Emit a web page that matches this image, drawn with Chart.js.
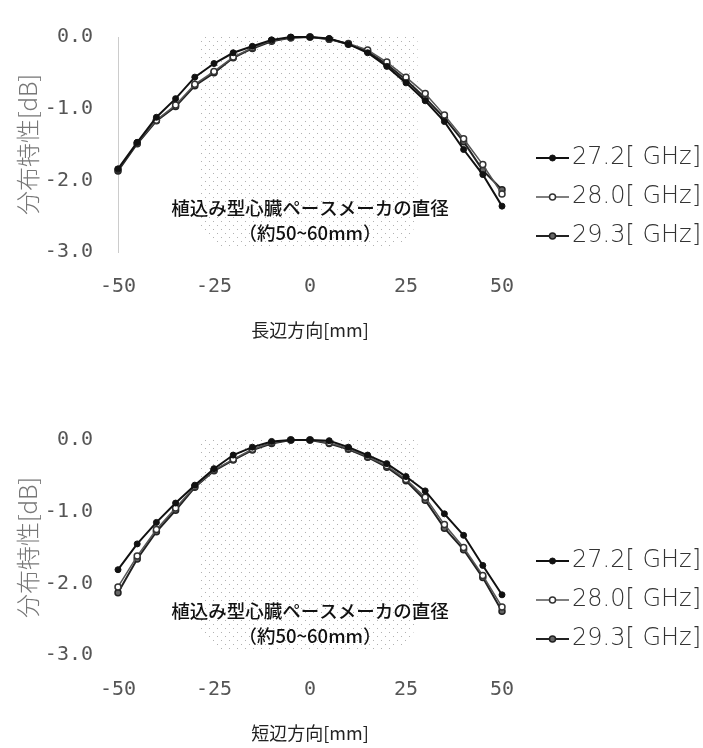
<!DOCTYPE html>
<html>
<head>
<meta charset="utf-8">
<script src="https://cdn.jsdelivr.net/npm/chart.js@4.4.1/dist/chart.umd.min.js"></script>
<style>
html, body { margin: 0; padding: 0; background: #fff; }
body { width: 703px; height: 748px; position: relative; overflow: hidden; }
.box { position: absolute; left: 0; width: 703px; height: 345px; }
#topBox { top: 0; }
#bottomBox { top: 403px; }
</style>
</head>
<body>
<div class="box" id="topBox"><canvas id="longChart"></canvas></div>
<div class="box" id="bottomBox"><canvas id="shortChart"></canvas></div>
<script>
// positions along the side [mm]
const positions = [-50, -45, -40, -35, -30, -25, -20, -15, -10, -5, 0, 5, 10, 15, 20, 25, 30, 35, 40, 45, 50];
const seriesLabels = ['27.2[ GHz]', '28.0[ GHz]', '29.3[ GHz]'];

// long side (長辺方向) [dB]
const long272 = [-1.84, -1.47, -1.12, -0.86, -0.56, -0.37, -0.22, -0.13, -0.04, 0.00, 0.00, -0.02, -0.10, -0.22, -0.41, -0.64, -0.89, -1.18, -1.57, -1.92, -2.36];
const long280 = [-1.85, -1.48, -1.16, -0.95, -0.66, -0.48, -0.28, -0.15, -0.05, -0.01, 0.00, -0.03, -0.09, -0.18, -0.35, -0.56, -0.79, -1.09, -1.42, -1.78, -2.19];
const long293 = [-1.87, -1.49, -1.17, -0.97, -0.68, -0.50, -0.29, -0.16, -0.06, -0.01, 0.00, -0.03, -0.10, -0.20, -0.38, -0.60, -0.85, -1.13, -1.46, -1.86, -2.13];

// short side (短辺方向) [dB]
const short272 = [-1.81, -1.45, -1.15, -0.88, -0.63, -0.40, -0.21, -0.10, -0.02, 0.00, 0.00, -0.01, -0.10, -0.21, -0.33, -0.51, -0.71, -1.03, -1.33, -1.75, -2.16];
const short280 = [-2.05, -1.62, -1.25, -0.95, -0.65, -0.42, -0.27, -0.13, -0.04, 0.00, 0.00, -0.04, -0.12, -0.23, -0.36, -0.55, -0.80, -1.18, -1.50, -1.89, -2.33];
const short293 = [-2.13, -1.66, -1.28, -0.98, -0.66, -0.43, -0.28, -0.14, -0.05, 0.00, 0.00, -0.05, -0.13, -0.24, -0.38, -0.57, -0.84, -1.23, -1.53, -1.92, -2.39];

const xTicks = [-50, -25, 0, 25, 50];
const yTicks = [0, -1, -2, -3];
const yTitle = '分布特性[dB]';
const noteLines = ['植込み型心臓ペースメーカの直径', '（約50~60mm）'];

const seriesStyles = [
    { borderColor: '#111', borderWidth: 2, pointBackgroundColor: '#111', pointBorderColor: '#111', pointBorderWidth: 1, pointRadius: 3 },
    { borderColor: '#555', borderWidth: 1.5, pointBackgroundColor: '#fff', pointBorderColor: '#333', pointBorderWidth: 1.5, pointRadius: 3 },
    { borderColor: '#222', borderWidth: 2, pointBackgroundColor: '#666', pointBorderColor: '#222', pointBorderWidth: 1.5, pointRadius: 3 }
];

// sparse dot texture for the pacemaker-diameter region
function makeDotPattern(ctx) {
    const tile = document.createElement('canvas');
    tile.width = 8; tile.height = 8;
    const t = tile.getContext('2d');
    t.fillStyle = 'rgba(100,100,100,0.5)';
    t.fillRect(1, 1, 1, 1);
    t.fillRect(5, 5, 1, 1);
    return ctx.createPattern(tile, 'repeat');
}

const stipple = {
    id: 'stipple',
    beforeDatasetsDraw(chart, args, opts) {
        const { ctx, scales: { x, y } } = chart;
        const left = x.getPixelForValue(opts.xFrom), right = x.getPixelForValue(opts.xTo);
        const top = y.getPixelForValue(opts.yFrom), bottom = y.getPixelForValue(opts.yTo);
        const r = opts.radius;
        ctx.save();
        ctx.beginPath();
        ctx.moveTo(left, top);
        ctx.lineTo(right, top);
        ctx.lineTo(right, bottom - r);
        ctx.quadraticCurveTo(right, bottom, right - r, bottom);
        ctx.lineTo(left + r, bottom);
        ctx.quadraticCurveTo(left, bottom, left, bottom - r);
        ctx.closePath();
        ctx.fillStyle = makeDotPattern(ctx);
        ctx.fill();
        // note text over the region
        const cx = x.getPixelForValue(opts.noteX);
        ctx.font = opts.noteFont;
        ctx.textAlign = 'center';
        ctx.textBaseline = 'middle';
        ctx.fillStyle = '#111';
        noteLines.forEach((line, i) => {
            ctx.fillText(line, cx, y.getPixelForValue(opts.noteY[i]));
        });
        ctx.restore();
    }
};

const sideLegend = {
    id: 'sideLegend',
    afterDraw(chart, args, opts) {
        const { ctx, chartArea } = chart;
        ctx.save();
        chart.data.datasets.forEach((ds, i) => {
            const y = chartArea.top + opts.firstRow + i * opts.rowGap;
            const x0 = opts.left;
            ctx.strokeStyle = ds.borderColor;
            ctx.lineWidth = ds.borderWidth;
            ctx.beginPath();
            ctx.moveTo(x0, y);
            ctx.lineTo(x0 + opts.lineLength, y);
            ctx.stroke();
            ctx.beginPath();
            ctx.arc(x0 + opts.lineLength / 2, y, ds.pointRadius, 0, Math.PI * 2);
            ctx.fillStyle = ds.pointBackgroundColor;
            ctx.fill();
            ctx.lineWidth = ds.pointBorderWidth;
            ctx.strokeStyle = ds.pointBorderColor;
            ctx.stroke();
            ctx.font = opts.font;
            ctx.fillStyle = opts.color;
            ctx.textBaseline = 'middle';
            ctx.textAlign = 'left';
            ctx.fillText(ds.label, x0 + opts.lineLength + opts.gap, y);
        });
        ctx.restore();
    }
};

function makeChart(canvasId, xTitle, series, dottedAxis) {
    const ctx = document.getElementById(canvasId).getContext('2d');
    return new Chart(ctx, {
        type: 'line',
        data: {
            datasets: series.map((values, i) => Object.assign({
                label: seriesLabels[i],
                data: positions.map((p, j) => ({ x: p, y: values[j] })),
                tension: 0,
                clip: false
            }, seriesStyles[i]))
        },
        options: {
            responsive: true,
            maintainAspectRatio: false,
            animation: false,
            layout: { padding: { top: 19, right: 201, left: 0, bottom: 0 } },
            plugins: {
                legend: { display: false },
                tooltip: { enabled: false },
                stipple: { xFrom: -29, xTo: 28, yFrom: 0, yTo: -2.95, radius: 40, noteX: 0, noteY: [-2.38, -2.74], noteFont: '500 18.5px "Noto Sans CJK JP"' },
                sideLegend: { firstRow: 121, rowGap: 39, left: 536, lineLength: 33, gap: 3, font: '200 24px "DejaVu Sans"', color: '#333' }
            },
            scales: {
                x: {
                    type: 'linear',
                    min: -50,
                    max: 50,
                    afterBuildTicks: s => { s.ticks = xTicks.map(v => ({ value: v })); },
                    afterFit: s => { s.height = 93; },
                    grid: { display: false, drawTicks: false },
                    border: { display: false },
                    ticks: { padding: 23, color: '#555', font: { family: 'DejaVu Sans Mono', size: 20 } },
                    title: { display: true, text: xTitle, color: '#222', font: { family: 'Noto Sans CJK JP', size: 18 }, padding: { top: 0, bottom: 4 } }
                },
                y: {
                    type: 'linear',
                    min: -3,
                    max: 0,
                    afterBuildTicks: s => { s.ticks = yTicks.map(v => ({ value: v })); },
                    afterFit: s => { s.width = 118; },
                    grid: { display: false, drawTicks: false },
                    border: dottedAxis ? { display: true, color: '#ccc', dash: [1, 6], width: 1 } : { display: false },
                    ticks: { padding: 25, color: '#555', font: { family: 'DejaVu Sans Mono', size: 20 }, callback: v => v.toFixed(1) },
                    title: { display: true, text: yTitle, color: '#777', font: { family: 'Noto Sans CJK JP', size: 24, weight: 300 }, padding: { top: 13, bottom: 0 } }
                }
            }
        },
        plugins: [stipple, sideLegend]
    });
}

makeChart('longChart', '長辺方向[mm]', [long272, long280, long293], true);
makeChart('shortChart', '短辺方向[mm]', [short272, short280, short293], false);
</script>
</body>
</html>
